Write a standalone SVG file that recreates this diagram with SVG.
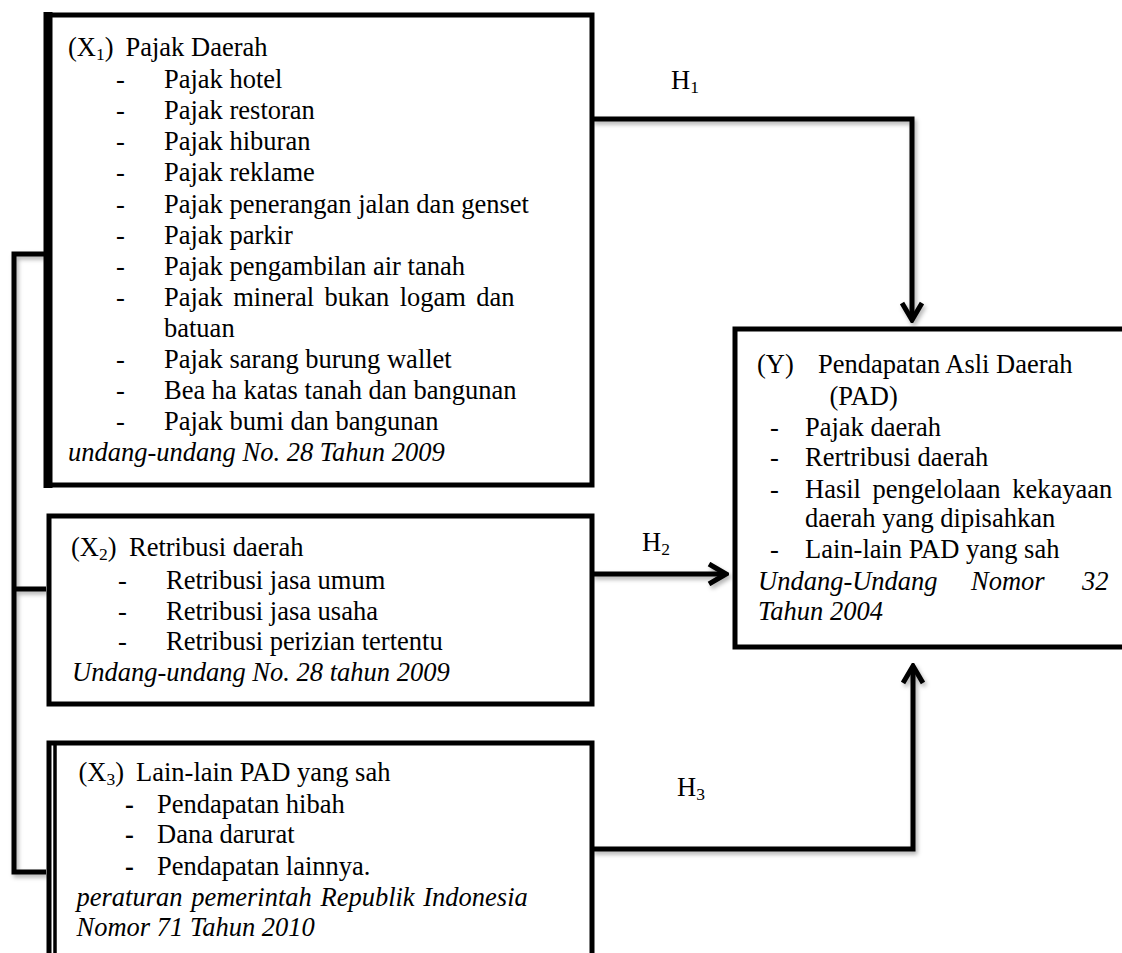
<svg xmlns="http://www.w3.org/2000/svg" width="1122" height="953" viewBox="0 0 1122 953">
<defs>
<style>
text{font-family:"Liberation Serif","Times New Roman",serif;font-size:26.5px;fill:#000}
.it{font-style:italic}
.sub{font-size:17.5px}
.box{fill:#fff;stroke:#000;stroke-width:5}
.ln{fill:none;stroke:#000;stroke-width:5;stroke-linejoin:miter}
</style>
<filter id="sh" x="-10%" y="-10%" width="130%" height="130%">
<feDropShadow dx="2" dy="3" stdDeviation="2" flood-color="#000" flood-opacity="0.3"/>
</filter>
<marker id="ah" markerUnits="userSpaceOnUse" viewBox="-2 -2 22 24" markerWidth="22" markerHeight="24" refX="17" refY="10" orient="auto">
<path d="M0,0 L17,10 L0,20" fill="none" stroke="#000" stroke-width="5"/>
</marker>
</defs>
<rect width="1122" height="953" fill="#fff"/>

<g id="connectors" filter="url(#sh)">
<path class="ln" d="M44,254 H14 V872 H46"/>
<path class="ln" d="M14,589 H46"/>
<path class="ln" d="M592,119 H912 V320" marker-end="url(#ah)"/>
<path class="ln" d="M592,574 H726" marker-end="url(#ah)"/>
<path class="ln" d="M592,849 H913 V666" marker-end="url(#ah)"/>
</g>

<g id="labels">
<text x="671" y="89">H<tspan class="sub" dy="4">1</tspan></text>
<text x="642" y="551">H<tspan class="sub" dy="4">2</tspan></text>
<text x="677" y="796">H<tspan class="sub" dy="4">3</tspan></text>
</g>

<g id="x1">
<rect class="box" x="48" y="15" width="544" height="470" stroke-width="6.5"/>
<line x1="48" y1="12" x2="48" y2="488" stroke="#000" stroke-width="9"/>
<text x="68" y="56">(X<tspan class="sub" dy="4">1</tspan><tspan dy="-4">)</tspan></text>
<text x="125.5" y="56">Pajak Daerah</text>
<g>
<text x="116" y="88">-</text><text x="164" y="88">Pajak hotel</text>
<text x="116" y="119">-</text><text x="164" y="119">Pajak restoran</text>
<text x="116" y="150">-</text><text x="164" y="150">Pajak hiburan</text>
<text x="116" y="181">-</text><text x="164" y="181">Pajak reklame</text>
<text x="116" y="213">-</text><text x="164" y="213">Pajak penerangan jalan dan genset</text>
<text x="116" y="244">-</text><text x="164" y="244">Pajak parkir</text>
<text x="116" y="275">-</text><text x="164" y="275">Pajak pengambilan air tanah</text>
<text x="116" y="306">-</text><text x="164" y="306" word-spacing="3.75">Pajak mineral bukan logam dan</text>
<text x="164" y="337">batuan</text>
<text x="116" y="368">-</text><text x="164" y="368">Pajak sarang burung wallet</text>
<text x="116" y="399">-</text><text x="164" y="399">Bea ha katas tanah dan bangunan</text>
<text x="116" y="430">-</text><text x="164" y="430">Pajak bumi dan bangunan</text>
</g>
<text class="it" x="68" y="461">undang-undang No. 28 Tahun 2009</text>
</g>

<g id="x2">
<rect class="box" x="49" y="516" width="543" height="188"/>
<text x="71" y="556">(X<tspan class="sub" dy="4">2</tspan><tspan dy="-4">)</tspan></text>
<text x="129" y="556">Retribusi daerah</text>
<text x="118" y="589">-</text><text x="166" y="589">Retribusi jasa umum</text>
<text x="118" y="620">-</text><text x="166" y="620">Retribusi jasa usaha</text>
<text x="118" y="650">-</text><text x="166" y="650">Retribusi perizian tertentu</text>
<text class="it" x="72" y="681">Undang-undang No. 28 tahun 2009</text>
</g>

<g id="x3">
<path class="box" d="M49,960 V743 H592 V960"/>
<line x1="55" y1="745" x2="55" y2="960" stroke="#000" stroke-width="3.5"/>
<text x="78.5" y="781">(X<tspan class="sub" dy="4">3</tspan><tspan dy="-4">)</tspan></text>
<text x="136" y="781">Lain-lain PAD yang sah</text>
<text x="125" y="813" font-weight="bold">-</text><text x="157" y="813">Pendapatan hibah</text>
<text x="125" y="843" font-weight="bold">-</text><text x="157" y="843">Dana darurat</text>
<text x="125" y="875" font-weight="bold">-</text><text x="157" y="875">Pendapatan lainnya.</text>
<text class="it" x="76.5" y="906" word-spacing="2">peraturan pemerintah Republik Indonesia</text>
<text class="it" x="76.5" y="936">Nomor 71 Tahun 2010</text>
</g>

<g id="y">
<path class="box" d="M1130,329 H735 V647 H1130"/>
<text x="757" y="373">(Y)</text>
<text x="818" y="373">Pendapatan Asli Daerah</text>
<text x="829.5" y="405">(PAD)</text>
<text x="770" y="436">-</text><text x="805" y="436">Pajak daerah</text>
<text x="770" y="466">-</text><text x="805" y="466">Rertribusi daerah</text>
<text x="770" y="498">-</text><text x="805" y="498" word-spacing="5">Hasil pengelolaan kekayaan</text>
<text x="805" y="527">daerah yang dipisahkan</text>
<text x="770" y="558">-</text><text x="805" y="558">Lain-lain PAD yang sah</text>
<text class="it" x="758" y="590">Undang-Undang</text>
<text class="it" x="971" y="590">Nomor</text>
<text class="it" x="1082" y="590">32</text>
<text class="it" x="758" y="620">Tahun 2004</text>
</g>
</svg>
